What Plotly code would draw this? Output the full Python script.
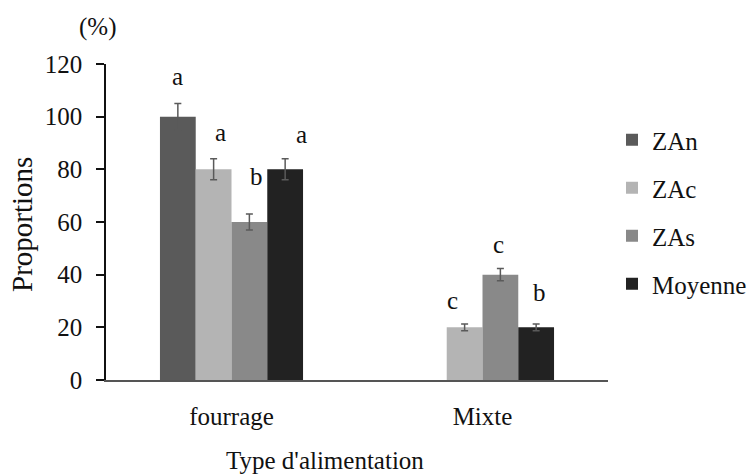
import plotly.graph_objects as go

categories = ["fourrage", "Mixte"]
series_names = ["ZAn", "ZAc", "ZAs", "Moyenne"]
values = {
    "ZAn": [100, 0],
    "ZAc": [80, 20],
    "ZAs": [60, 40],
    "Moyenne": [80, 20],
}
errors = {
    "ZAn": [5, None],
    "ZAc": [4, 1.3],
    "ZAs": [3, 2.3],
    "Moyenne": [4, 1.3],
}
letters = {
    "ZAn": ["a", ""],
    "ZAc": ["a", "c"],
    "ZAs": ["b", "c"],
    "Moyenne": ["a", "b"],
}
y_ticks = [0, 20, 40, 60, 80, 100, 120]

colors = {"ZAn": "#5a5a5a", "ZAc": "#b4b4b4", "ZAs": "#898989", "Moyenne": "#222222"}
FONT = "Liberation Serif"
FS = 25

# styling: per-label pixel nudges (x, y) relative to the bar centre / error-bar top
nudge = {
    "ZAn": [(0, 12), (0, 0)],
    "ZAc": [(7, 11), (-12, 8)],
    "ZAs": [(7, 22), (-2, 9)],
    "Moyenne": [(16, 9), (3, 16)],
}


def err_array(errs):
    # drop trailing missing values so plotly draws no error bar there
    arr = list(errs)
    while arr and arr[-1] is None:
        arr.pop()
    return arr


fig = go.Figure()
for name in series_names:
    fig.add_trace(go.Bar(
        name=name, x=categories, y=values[name],
        marker=dict(color=colors[name], line=dict(width=0)),
        error_y=dict(type="data", array=err_array(errors[name]), visible=True,
                     color="#5a5a5a", thickness=1.5, width=3.5),
        legendgroup=name,
    ))

plot_l, plot_r, plot_t, plot_b = 106, 146, 64, 96
W, H = 754, 476
plot_w = W - plot_l - plot_r
plot_h = H - plot_t - plot_b
bargap = 0.43
bar_w = plot_w / len(categories) * (1 - bargap) / len(series_names)

annotations = []
for si, name in enumerate(series_names):
    offset = (si - (len(series_names) - 1) / 2) * bar_w
    for ci, cat in enumerate(categories):
        txt = letters[name][ci]
        if not txt:
            continue
        err = errors[name][ci] or 0
        dx, dy = nudge[name][ci]
        annotations.append(dict(
            x=cat, y=values[name][ci] + err, xref="x", yref="y",
            text=txt, showarrow=False, xshift=offset + dx, yshift=dy,
            yanchor="bottom", font=dict(family=FONT, size=FS, color="#111"),
        ))

# labels placed at pixel positions (converted to paper coordinates)
px_labels = [
    ("(%)", 97, 27, 0, FS),
    ("Type d'alimentation", 325, 460, 0, FS),
    ("Proportions", 22, 225, -90, 29),
]
for txt, px, py, ang, fs in px_labels:
    annotations.append(dict(
        x=(px - plot_l) / plot_w, y=(H - plot_b - py) / plot_h,
        xref="paper", yref="paper", text=txt, showarrow=False, textangle=ang,
        xanchor="center", yanchor="middle",
        font=dict(family=FONT, size=fs, color="#111"),
    ))

fig.update_layout(
    width=W, height=H,
    margin=dict(l=plot_l, r=plot_r, t=plot_t, b=plot_b, autoexpand=False),
    paper_bgcolor="white", plot_bgcolor="white",
    barmode="group", bargap=bargap, bargroupgap=0,
    font=dict(family=FONT, size=FS, color="#111"),
    showlegend=True,
    legend=dict(x=(612 - plot_l) / plot_w, xanchor="left",
                y=(H - plot_b - 117) / plot_h, yanchor="top",
                tracegroupgap=12.5, font=dict(family=FONT, size=FS, color="#111"),
                bgcolor="rgba(0,0,0,0)"),
    annotations=annotations,
)
fig.update_xaxes(showline=True, linecolor="#555555", linewidth=1.5,
                 ticks="", showgrid=False, ticklabelstandoff=13,
                 tickfont=dict(family=FONT, size=FS, color="#111"))
fig.update_yaxes(range=[0, 120], tickvals=y_ticks, showline=True,
                 linecolor="#111111", linewidth=1.5, ticks="outside",
                 ticklen=8, tickcolor="#111111", tickwidth=1.5,
                 showgrid=False, zeroline=False, ticklabelstandoff=9,
                 tickfont=dict(family=FONT, size=FS, color="#111"))

fig.write_html("out.html", config={"displayModeBar": False},
               post_script="document.body.style.margin='0';")
